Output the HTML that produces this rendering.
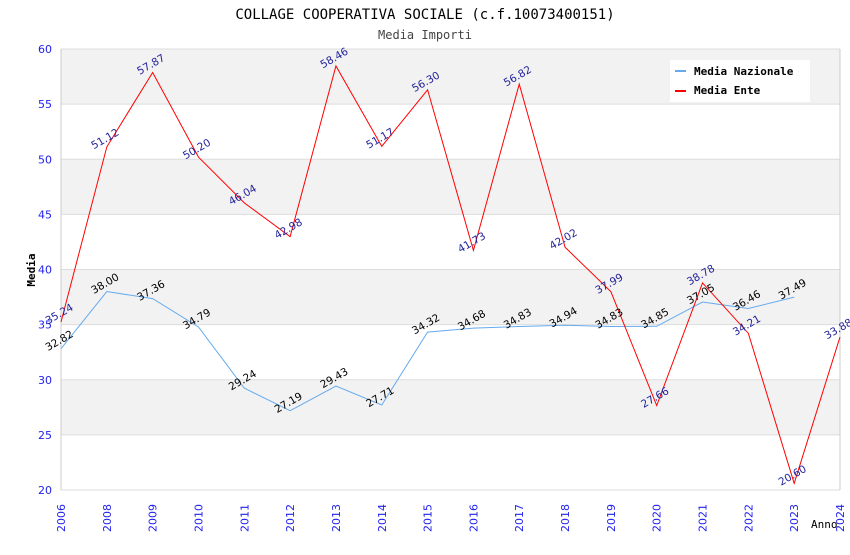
<!DOCTYPE html>
<html><head><meta charset="utf-8"><style>
body{margin:0;background:#fff;}
svg text{font-family:"DejaVu Sans","Liberation Sans",sans-serif;}
</style></head><body>
<svg id="chart" width="850" height="550" xmlns="http://www.w3.org/2000/svg">
<text x="425" y="19" text-anchor="middle" font-size="14" style="font-family:'DejaVu Sans Mono','Liberation Mono',monospace">COLLAGE COOPERATIVA SOCIALE (c.f.10073400151)</text>
<text x="425" y="39" text-anchor="middle" font-size="12" fill="#444" style="font-family:'DejaVu Sans Mono','Liberation Mono',monospace">Media Importi</text>
<g id="grid"></g>
<g id="axes"></g>
<g id="series"></g>
<g id="labels"></g>
<text x="35" y="270" text-anchor="middle" font-size="11" font-weight="bold" transform="rotate(-90 35 270)" style="font-family:'DejaVu Sans Mono','Liberation Mono',monospace">Media</text>
<text x="811" y="528" font-size="11" style="font-family:'DejaVu Sans Mono','Liberation Mono',monospace">Anno</text>
<g>
<rect x="670" y="60" width="140" height="42" fill="#fff"/>
<g><rect x="675" y="70" width="11" height="2" fill="#66aaee"/><text x="694" y="75" font-size="11" font-weight="bold" style="font-family:'DejaVu Sans Mono','Liberation Mono',monospace">Media Nazionale</text></g>
<g><rect x="675" y="90" width="11" height="2" fill="#ff0000"/><text x="694" y="94" font-size="11" font-weight="bold" style="font-family:'DejaVu Sans Mono','Liberation Mono',monospace">Media Ente</text></g>
</g>
</svg>
<script>
const years=["2006","2008","2009","2010","2011","2012","2013","2014","2015","2016","2017","2018","2019","2020","2021","2022","2023","2024"];
const nazionale=[32.82,38.00,37.36,34.79,29.24,27.19,29.43,27.71,34.32,34.68,34.83,34.94,34.83,34.85,37.05,36.46,37.49];
const ente=[35.24,51.12,57.87,50.20,46.04,42.98,58.46,51.17,56.30,41.73,56.82,42.02,37.99,27.66,38.78,34.21,20.60,33.88];
const yTicks=[20,25,30,35,40,45,50,55,60];
const NS="http://www.w3.org/2000/svg";
const L=61,R=840,T=49,B=490,yMin=20,yMax=60;
const xs=i=>L+i*(R-L)/(years.length-1);
const ys=v=>B-(v-yMin)/(yMax-yMin)*(B-T);
function mk(tag,attrs,parent){const e=document.createElementNS(NS,tag);for(const k in attrs)e.setAttribute(k,attrs[k]);document.getElementById(parent).appendChild(e);return e;}
for(let i=0;i<yTicks.length-1;i++){
  const band=mk('rect',{x:L,y:ys(yTicks[i+1]),width:R-L,height:ys(yTicks[i])-ys(yTicks[i+1]),fill:(i%2==1)?'#f2f2f2':'#fff'},'grid');
  
  
}
yTicks.forEach(t=>{
  const l=mk('line',{x1:L,x2:R,y1:ys(t),y2:ys(t),stroke:'#ddd'},'grid');
  
  
  const tx=mk('text',{x:L-9,y:ys(t)+4,'text-anchor':'end','font-size':11,fill:'#2222ee'},'axes');
  tx.textContent=t;
  
  
});
mk('line',{x1:L,x2:L,y1:T,y2:B,stroke:'#ccc'},'axes');
mk('line',{x1:R,x2:R,y1:T,y2:B,stroke:'#ccc'},'axes');
years.forEach((y,i)=>{
  const x=xs(i)+4,yy=504;
  const tx=mk('text',{x:x,y:yy,'text-anchor':'end','font-size':11,fill:'#2222ee',transform:`rotate(-90 ${x} ${yy})`},'axes');
  tx.textContent=y;
  
  
});
function line(vals,color,name,lblColor){
  const p=mk('polyline',{points:vals.map((v,i)=>xs(i)+','+ys(v)).join(' '),fill:'none',stroke:color,'stroke-width':1},'series');
  
  
  vals.forEach((v,i)=>{
    const x=xs(i),y=ys(v)-5;
    const t=mk('text',{x:x,y:y,'text-anchor':'middle','font-size':10.5,fill:lblColor,transform:`rotate(-30 ${x} ${y})`},'labels');
    t.textContent=v.toFixed(2);
    
    
  });
}
line(nazionale,'#66aaee','line-media-nazionale','#000');
line(ente,'#ff0000','line-media-ente','#22229a');
</script>
</body></html>
